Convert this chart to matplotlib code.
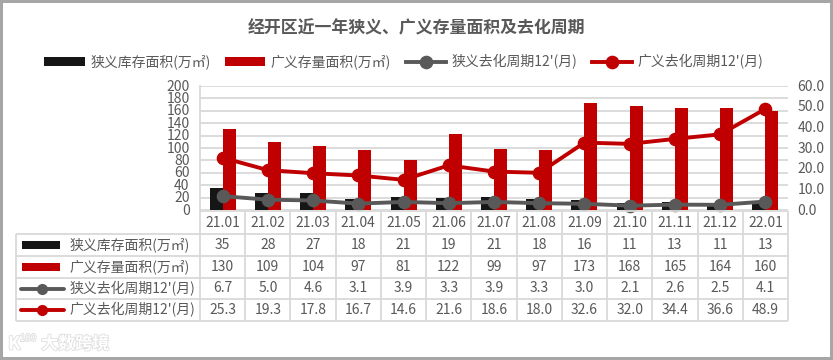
import matplotlib
matplotlib.use("Agg")
import matplotlib.pyplot as plt
import matplotlib.patheffects as pe
from matplotlib.transforms import ScaledTranslation

plt.rcParams['font.family'] = ['Noto Sans CJK SC', 'DejaVu Sans']

months = ["21.01", "21.02", "21.03", "21.04", "21.05", "21.06", "21.07",
          "21.08", "21.09", "21.10", "21.11", "21.12", "22.01"]
narrow_area = [35, 28, 27, 18, 21, 19, 21, 18, 16, 11, 13, 11, 13]
broad_area = [130, 109, 104, 97, 81, 122, 99, 97, 173, 168, 165, 164, 160]
narrow_cycle = [6.7, 5.0, 4.6, 3.1, 3.9, 3.3, 3.9, 3.3, 3.0, 2.1, 2.6, 2.5, 4.1]
broad_cycle = [25.3, 19.3, 17.8, 16.7, 14.6, 21.6, 18.6, 18.0, 32.6, 32.0, 34.4, 36.6, 48.9]

row_names = ["狭义库存面积(万㎡)", "广义存量面积(万㎡)", "狭义去化周期12'(月)", "广义去化周期12'(月)"]
title = "经开区近一年狭义、广义存量面积及去化周期"

BLACK = "#161616"
RED = "#C00000"
GRAY = "#595959"
GRID = "#D9D9D9"
TXT = "#595959"
W, H = 833, 360
x = list(range(len(months)))

fig = plt.figure(figsize=(W / 100, H / 100), dpi=100, facecolor="white")
fig.patch.set_edgecolor("#A6A6A6")
fig.patch.set_linewidth(3)

# plot area, in pixels: x 200-788, y 86-210
ax = fig.add_axes([200 / W, 1 - 210 / H, 588 / W, 124 / H])
ax2 = ax.twinx()

b1 = ax.bar([i - 0.144 for i in x], narrow_area, 0.288, color=BLACK, label=row_names[0], zorder=3)
b2 = ax.bar([i + 0.144 for i in x], broad_area, 0.288, color=RED, label=row_names[1], zorder=3)
l1, = ax2.plot(x, narrow_cycle, color=GRAY, lw=2.8, marker="o", ms=8.8, label=row_names[2], clip_on=False, zorder=4)
l2, = ax2.plot(x, broad_cycle, color=RED, lw=2.8, marker="o", ms=8.8, label=row_names[3], clip_on=False, zorder=3)

ax.set_xlim(-0.5, 12.5)
ax.set_ylim(0, 200)
ax.set_yticks(range(0, 201, 20))
ax2.set_ylim(0, 60)
ax2.set_yticks(range(0, 61, 10))
ax2.set_yticklabels([f"{v:.1f}" for v in range(0, 61, 10)])
ax.set_xticks([])
ax.grid(axis="y", color=GRID, lw=1.3, zorder=0)
ax.set_axisbelow(True)
ax.tick_params(axis="y", length=0, pad=7.5, labelsize=10, labelcolor=TXT)
ax2.tick_params(axis="y", length=0, pad=7, labelsize=10, labelcolor=TXT)
for a in (ax, ax2):
    a.patch.set_visible(False)
    for s in a.spines.values():
        s.set_visible(False)
ax.spines["left"].set_visible(True)
ax.spines["left"].set_color(GRID)
ax.spines["left"].set_linewidth(1.3)

# tick labels sit a little higher than the gridlines
up = ScaledTranslation(0, 0.7 / 72, fig.dpi_scale_trans)
for lab in ax.get_yticklabels() + ax2.get_yticklabels():
    lab.set_transform(lab.get_transform() + up)

fig.text(416 / W, 1 - 28 / H, title, ha="center", va="center", fontsize=12.2,
         fontweight="bold", color=TXT)

fig.legend(handles=[b1, b2, l1, l2], loc="center", bbox_to_anchor=(404 / W, 1 - 62 / H), ncol=4,
           frameon=False, fontsize=10, labelcolor=TXT, handlelength=2.9, handleheight=0.6,
           handletextpad=0.4, columnspacing=1.05, borderpad=0, borderaxespad=0)

# data table, drawn on an overlay in pixel coordinates
tab = fig.add_axes([0, 0, 1, 1], zorder=5)
tab.set_xlim(0, W)
tab.set_ylim(H, 0)
tab.axis("off")
tab.patch.set_visible(False)

col_w = 588 / 13
row_y = [211, 234, 256, 278, 299, 321]
tab.hlines(row_y[0], 200, 788, color=GRID, lw=1.3)
tab.hlines(row_y[1:], 16, 788, color=GRID, lw=1.3)
tab.vlines([200 + col_w * i for i in range(14)], row_y[0], row_y[-1], color=GRID, lw=1.3)
tab.vlines(16, row_y[1], row_y[-1], color=GRID, lw=1.3)

rows = [[str(v) for v in narrow_area], [str(v) for v in broad_area],
        [f"{v:.1f}" for v in narrow_cycle], [f"{v:.1f}" for v in broad_cycle]]
for i, m in enumerate(months):
    cx = 200 + col_w * (i + 0.5)
    tab.text(cx, (row_y[0] + row_y[1]) / 2 + 0.5, m, ha="center", va="center", fontsize=10, color=TXT)
    for r, vals in enumerate(rows):
        tab.text(cx, (row_y[r + 1] + row_y[r + 2]) / 2, vals[i], ha="center", va="center",
                 fontsize=10, color=TXT)

for r, name in enumerate(row_names):
    cy = (row_y[r + 1] + row_y[r + 2]) / 2
    tab.text(70, cy, name, ha="left", va="center", fontsize=10, color=TXT)
    if r < 2:
        tab.fill_between([22, 60], cy - 4, cy + 4, color=[BLACK, RED][r], lw=0)
    else:
        tab.plot([21, 64], [cy, cy], color=[GRAY, RED][r - 2], lw=2.8, solid_capstyle="round")
        tab.plot([42], [cy], "o", color=[GRAY, RED][r - 2], ms=7)

# watermark
outline = [pe.withStroke(linewidth=1.2, foreground="#DEDEDE")]
tab.text(8, 344, "K", fontsize=13, color="white", ha="left", va="center", fontweight="bold", path_effects=outline)
tab.text(20, 338, "100", fontsize=7, color="white", ha="left", va="center", path_effects=outline)
tab.text(41, 344, "大数跨境", fontsize=12.3, color="white", ha="left", va="center", fontweight="bold",
         path_effects=outline)

fig.savefig("out.png", dpi=100)
